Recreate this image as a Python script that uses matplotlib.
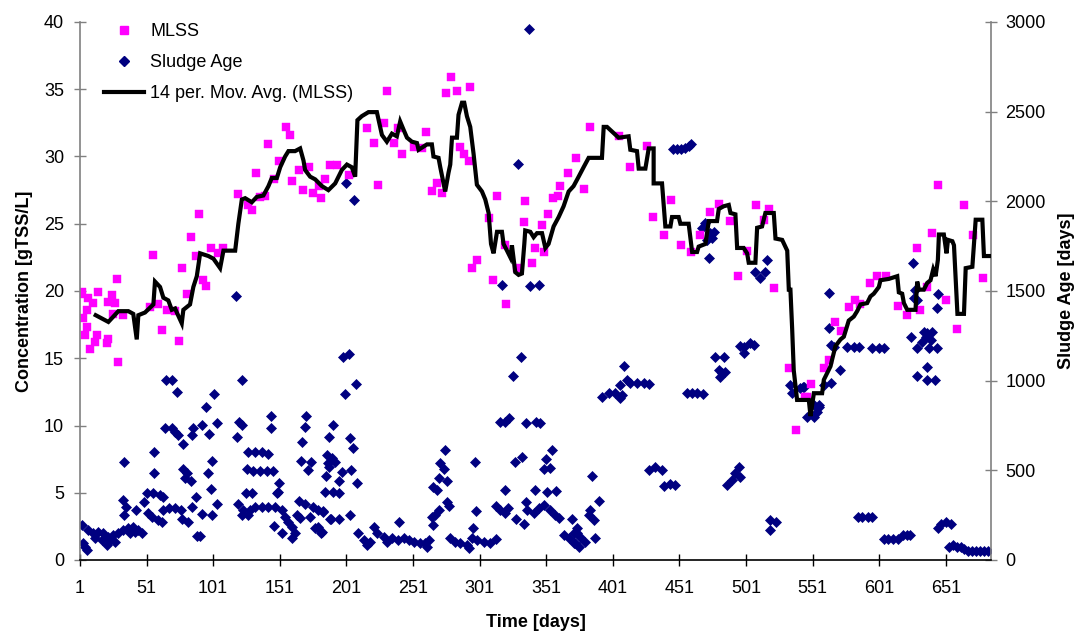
import matplotlib
matplotlib.use("Agg")
import matplotlib.pyplot as plt
from matplotlib.lines import Line2D

plt.rcParams['font.family'] = ['Liberation Sans', 'DejaVu Sans']

# ---------------- data ----------------
mlss_day = [1.0, 2.3, 3.5, 4.8, 6.0, 6.0, 7.2, 8.5, 11.0, 12.3, 13.5, 14.7, 21.1, 22.3, 22.3, 24.8, 26.0, 27.3,
            29.0, 29.8, 33.5, 53.6, 55.6, 59.8, 62.4, 66.1, 72.4, 75.6, 77.4, 81.2, 84.6, 88.2, 90.4, 93.2,
            95.4, 99.6, 104.5, 108.7, 119.5, 127.0, 130.0, 133.2, 136.2, 140.0, 142.5, 147.0, 150.5, 155.5,
            158.8, 160.1, 165.5, 168.3, 173.3, 176.3, 180.8, 182.1, 185.1, 188.8, 193.9, 202.6, 216.8,
            221.4, 224.7, 228.9, 231.4, 236.4, 239.7, 242.7, 251.4, 257.7, 261.0, 265.2, 269.0, 272.8,
            276.0, 279.5, 284.0, 286.5, 289.5, 292.7, 294.0, 295.3, 299.0, 308.3, 310.8, 314.1, 320.3,
            320.8, 329.1, 334.1, 334.8, 340.6, 342.8, 347.9, 349.6, 352.1, 355.8, 359.9, 361.6, 367.4,
            373.7, 379.1, 383.6, 405.4, 413.7, 426.8, 431.0, 439.8, 445.0, 452.3, 459.8, 466.3, 474.3,
            481.1, 489.4, 495.1, 501.9, 508.9, 514.4, 518.1, 522.4, 533.7, 538.9, 545.7, 546.9, 550.2,
            559.4, 563.2, 567.7, 572.5, 578.2, 582.7, 587.0, 594.5, 599.6, 605.8, 615.0, 622.1, 629.1,
            631.6, 636.6, 640.9, 645.1, 650.9, 659.2, 664.6, 671.7, 679.2]
mlss_conc = [19.8, 19.9, 18.0, 16.7, 18.6, 17.3, 19.5, 15.7, 19.1, 16.2, 16.7, 19.9, 16.1, 16.4, 19.2, 19.7, 18.3, 19.1,
             20.9, 14.7, 18.2, 18.8, 22.7, 19.0, 17.1, 18.6, 18.5, 16.3, 21.7, 19.8, 24.0, 22.6, 25.7, 20.8,
             20.4, 23.2, 22.8, 23.2, 27.2, 26.4, 26.0, 28.8, 27.0, 27.1, 30.9, 28.3, 29.7, 32.2,
             31.6, 28.2, 29.0, 27.5, 29.2, 27.3, 27.8, 26.9, 28.3, 29.4, 29.4, 28.6, 32.1,
             31.0, 27.9, 32.5, 34.9, 31.0, 32.1, 30.2, 30.7, 30.6, 31.8, 27.4, 28.0, 27.3,
             34.7, 35.9, 34.9, 30.7, 30.2, 29.7, 35.2, 21.7, 22.3, 25.4, 20.8, 27.1, 23.4,
             19.0, 21.7, 25.1, 26.7, 22.1, 23.2, 24.9, 22.9, 25.7, 26.9, 27.1, 27.8, 28.8,
             29.9, 27.6, 32.2, 31.5, 29.2, 30.8, 25.5, 24.2, 26.8, 23.4, 22.9, 24.2, 25.9,
             26.5, 25.2, 21.1, 23.0, 26.4, 25.3, 26.1, 20.2, 14.3, 9.7, 12.1, 12.1, 13.1,
             14.3, 14.9, 17.7, 17.0, 18.8, 19.3, 19.0, 20.6, 21.1, 21.1, 18.9, 18.2, 23.2,
             18.6, 20.3, 24.3, 27.9, 19.3, 17.2, 26.4, 24.2, 21.0]

age_day = [2.3, 3.5, 4.8, 6.0, 7.2, 11.0, 12.3, 14.7, 17.3, 18.5, 21.1, 22.3, 23.5, 26.0, 27.3, 29.8, 33.5, 33.5,
           34.3, 34.3, 35.3, 37.3, 38.6, 41.0, 42.3, 42.8, 44.8, 47.4, 49.3, 51.1, 52.3, 54.9, 56.1, 56.4,
           56.4, 59.8, 61.1, 62.4, 63.1, 63.6, 64.9, 65.4, 68.1, 69.9, 70.3, 72.4, 72.4, 73.7, 74.9, 76.9,
           77.4, 78.2, 78.2, 79.9, 81.2, 82.4, 84.4, 84.9, 85.4, 86.1, 88.2, 88.7, 91.2, 92.4, 92.4, 95.7,
           96.9, 97.9, 99.2, 100.4, 100.4, 101.7, 103.7, 104.2, 118.0, 118.7, 119.5, 120.7, 122.5, 122.5,
           122.5, 123.7, 125.5, 126.2, 127.4, 127.4, 128.7, 130.0, 131.2, 132.5, 132.5, 136.2, 137.5,
           137.5, 141.3, 142.5, 142.5, 144.3, 144.3, 146.2, 147.0, 147.5, 148.8, 149.5, 150.5, 152.5,
           152.5, 155.0, 157.5, 160.1, 160.1, 162.5, 163.8, 165.8, 166.3, 167.0, 167.6, 170.0, 170.0,
           170.8, 172.5, 173.8, 174.6, 176.3, 177.6, 180.0, 180.0, 182.1, 183.8, 185.1, 185.6, 187.5,
           189.6, 190.9, 190.9,
           182.6, 183.8, 186.4, 188.3, 188.3, 188.8, 190.1, 192.6, 195.1, 195.1, 195.1, 197.6, 198.8,
           200.1, 200.9, 202.6, 203.9, 203.9, 204.6, 205.6, 206.9, 208.1, 209.3, 210.1, 213.9, 216.4,
           218.9, 221.4, 223.9, 228.9, 231.4, 235.2, 240.1, 240.7, 243.9, 247.7, 251.4, 256.4, 260.2,
           261.5, 262.7, 265.2, 266.4, 266.4, 267.7, 269.0, 270.2, 270.2, 271.5, 274.0, 275.2, 276.5,
           276.5, 277.7, 279.0, 282.8, 286.5, 291.5, 292.7, 295.3, 296.0, 297.8, 298.5, 299.0, 304.0,
           309.0, 313.6, 313.6, 316.0, 316.6, 317.8, 320.3, 320.3, 320.3, 322.1, 322.8, 326.1, 327.8,
           328.6, 329.9, 332.1, 332.8, 334.1, 335.9, 336.1, 336.6, 337.8, 338.6, 341.6, 342.8, 343.6,
           345.3, 345.9, 346.6, 349.1, 349.6, 351.1, 351.6, 354.1, 354.1, 355.4, 357.9, 358.6, 360.4,
           364.1, 367.9, 370.4, 371.6, 371.6, 372.9, 374.2, 374.2, 375.4, 376.7, 380.4, 382.9, 384.2,
           385.4, 386.7, 387.9, 390.4,
           393.0, 397.9, 403.0, 406.7, 406.7, 408.0, 409.7, 411.7, 414.2, 419.2, 424.2, 428.0, 428.0,
           433.0, 438.1, 439.3, 444.3, 446.0, 448.1, 449.0, 452.0, 455.0, 456.8, 458.0, 460.0, 460.6,
           464.3, 468.1, 468.8, 470.6, 471.8, 473.0, 474.3, 475.6, 476.8, 478.1, 480.6, 481.8, 483.1,
           484.4, 485.6, 486.9, 490.6, 493.1, 495.6, 496.9, 496.9, 499.3, 499.3, 504.4, 506.9, 508.1,
           511.8, 515.6, 516.9, 518.9, 519.4, 523.2, 534.4, 535.7, 541.9, 543.9, 544.4, 546.9, 551.9,
           552.0, 554.4, 555.7, 555.7, 559.5, 563.2, 563.2, 564.5, 564.5, 567.0, 572.0, 577.0, 582.0,
           584.8, 585.8, 588.5, 592.3, 595.3, 595.8, 600.8, 604.5, 604.5, 607.5, 611.2, 615.0, 618.8,
           621.8, 624.1, 625.3, 626.3, 627.1, 628.3, 629.6, 629.6, 629.6, 633.4, 634.6, 635.9, 637.1,
           637.1, 637.1, 638.3, 639.6, 640.9, 642.9, 644.1, 644.7, 644.9, 644.9, 647.1, 650.9, 653.1,
           654.6, 656.1, 659.1, 662.1, 665.1, 668.1, 671.1, 674.1, 677.1, 680.1, 683.1]
age_val = [195, 93, 74, 56, 167, 149, 121, 158, 112, 149, 84, 130, 112, 139, 102, 149, 167, 335,
           548, 251, 297, 177, 149, 186, 158, 279, 167, 149, 325, 372, 260, 241, 372, 604,
           487, 223, 362, 214, 279, 353, 734, 1004, 288, 734, 1004, 715, 288, 939, 697, 279,
           227, 645, 506, 456, 487, 214, 442, 697, 297, 734, 350, 134, 134, 753, 256, 855,
           487, 701, 394, 554, 251, 924, 762, 312, 1474, 684, 312, 771, 1004, 753,
           251, 279, 372, 506, 604, 251, 279, 372, 498, 604, 297, 498, 604,
           297, 498, 591, 297, 805, 738, 498, 190, 297, 372, 381, 428, 279,
           149, 241, 214, 186, 121, 149, 251, 331, 233, 554, 656, 743, 312,
           805, 502, 238, 545, 297, 177, 279, 186, 149, 269, 377, 470, 543,
           229, 753, 381,
           158, 275, 586, 684, 517, 227, 567, 548, 442, 375, 227, 492, 1130,
           924, 2100, 1149, 679, 251, 502, 623, 2006, 981, 428, 149, 112, 84,
           102, 186, 149, 130, 102, 121, 112, 210, 121, 112, 102, 93, 93,
           74, 112, 238, 409, 195, 251, 390, 456, 279, 543, 506, 613, 441,
           325, 301, 121, 102, 93, 84, 65, 121, 177, 548, 273, 112, 102,
           93, 115, 301, 771, 279, 1533, 771, 390, 260, 288, 790, 1026, 548,
           227, 2206, 1130, 573, 201, 325, 762, 279, 2961, 1528, 260, 390, 771,
           288, 1533, 762, 307, 506, 562, 381, 511, 279, 613, 251, 385, 233,
           139, 121, 227, 93, 149, 93, 149, 177, 74, 130, 102, 251, 279,
           468, 223, 121, 331,
           911, 930, 930, 902, 976, 920, 1082, 1004, 985, 985, 985, 981, 502,
           517, 502, 413, 424, 2290, 418, 2290, 2290, 2296, 930, 2310, 2320, 930,
           930, 1850, 926, 1877, 1784, 1682, 1822, 1794, 1831, 1134, 1059, 1022, 1041,
           1134, 1050, 418, 446, 483, 517, 464, 1193, 1189, 1153, 1208, 1199, 1608,
           1571, 1608, 1673, 167, 223, 214, 976, 930, 957, 966, 966, 799, 799,
           864, 827, 864, 855, 976, 1487, 1292, 1199, 985, 1189, 1059, 1189, 1189,
           240, 1189, 240, 240, 240, 1180, 1180, 1180, 117, 117, 117, 117, 139,
           139, 139, 1242, 1654, 1459, 1506, 1450, 1180, 1026, 1217, 1273, 1245, 1264,
           1078, 1004, 1180, 1227, 1273, 1004, 1180, 1407, 1483, 178, 201, 212, 72,
           201, 84, 72, 72, 61, 50, 50, 50, 50, 50, 50]

mavg_day = [12.8, 22.3, 29.8, 37.3, 41.0, 43.6, 44.8, 49.8, 56.1, 57.3, 61.1, 63.6, 67.3, 69.9, 72.4, 73.7,
            77.4, 78.6, 83.6, 86.1, 88.7, 91.2, 97.4, 101.2, 106.2, 108.7, 117.5, 119.9, 122.5, 125.0,
            130.0, 133.8, 138.7, 142.5, 145.0, 148.8, 151.3, 155.0, 157.5, 162.5, 166.3, 168.8, 170.0,
            173.8, 177.6, 182.6, 187.5, 192.6, 197.6, 201.4, 205.1, 207.6, 209.3, 212.6, 217.6, 223.9,
            226.4, 227.7, 231.4, 235.2, 238.9, 241.4, 243.9, 246.5, 250.2, 254.0, 255.2, 261.5, 265.2,
            266.4, 270.2, 271.5, 275.2, 277.7, 279.0, 280.3, 284.0, 285.2, 287.8, 289.5, 291.5, 294.0,
            296.5, 299.0, 302.8, 305.3, 307.8, 309.6, 311.5, 314.1, 317.8, 319.0, 321.6, 324.1, 325.3,
            327.8, 330.3, 332.8, 334.6, 335.3, 339.1, 341.6, 344.1, 347.9, 350.4, 352.8, 356.6, 360.4,
            364.1, 367.9, 371.6, 375.4, 379.1, 382.9, 392.9, 394.2, 396.7, 405.4, 412.9, 414.2, 419.2,
            420.5, 425.5, 428.0, 431.7, 431.7, 438.0, 440.5, 444.3, 445.5, 450.5, 451.8, 458.0, 460.6,
            464.3, 465.5, 470.6, 473.1, 479.3, 480.6, 484.3, 488.1, 489.4, 493.1, 494.4, 499.3, 501.9,
            503.1, 508.1, 509.4, 513.1, 515.6, 521.9, 523.2, 528.2, 532.0, 533.2, 534.4, 535.7, 536.9,
            539.4, 548.2, 549.5, 552.0, 558.2, 559.5, 564.5, 565.7, 568.2, 572.0, 574.5, 578.2, 582.0,
            584.5, 587.0, 592.0, 594.5, 597.0, 600.8, 602.0, 608.3, 614.6, 615.8, 618.3, 619.6, 622.1,
            628.3, 629.6, 630.8, 634.6, 637.1, 639.6, 641.6, 643.4, 645.1, 645.9, 649.6, 651.6, 652.7,
            656.0, 657.2, 659.8, 664.7, 666.0, 671.0, 673.5, 678.5, 679.7, 685.0]
mavg_conc = [18.2, 17.7, 18.5, 18.5, 18.3, 16.4, 18.2, 18.4, 19.0, 20.7, 20.3, 19.5, 19.3, 18.6, 18.7, 18.4,
             17.6, 18.6, 19.0, 20.3, 21.1, 22.8, 22.6, 22.4, 21.7, 23.0, 23.0, 25.0, 26.8, 26.9,
             26.6, 27.0, 27.1, 27.8, 28.4, 28.4, 29.2, 30.0, 30.4, 30.4, 30.6, 29.7, 29.0,
             28.5, 28.3, 27.8, 27.5, 28.0, 29.0, 29.4, 29.2, 28.5, 32.7, 33.0, 33.3, 33.3,
             32.2, 31.6, 31.1, 31.7, 31.5, 32.6, 32.0, 31.4, 31.1, 31.0, 30.5, 30.9, 30.9,
             30.0, 29.9, 29.2, 27.4, 28.8, 29.4, 31.4, 31.4, 33.1, 34.0, 34.0, 33.0, 32.2,
             30.2, 27.9, 27.4, 26.8, 25.8, 23.5, 22.8, 24.4, 24.4, 23.5, 23.0, 22.5, 23.4,
             21.4, 21.2, 21.3, 23.5, 24.5, 24.4, 24.0, 24.3, 24.3, 23.2, 23.5, 24.8, 25.5,
             26.3, 27.4, 27.8, 28.5, 29.2, 29.9, 29.9, 32.2, 32.2, 31.4, 31.5, 30.5, 30.4,
             29.1, 29.1, 30.6, 30.6, 28.0, 28.0, 24.8, 24.8, 25.5, 25.5, 25.0, 25.0, 22.9,
             22.9, 23.3, 23.5, 25.2, 25.2, 26.1, 26.3, 26.4, 25.8, 25.7, 23.2, 23.2, 22.8,
             22.1, 22.1, 24.7, 24.8, 25.8, 25.8, 23.9, 23.8, 23.0, 20.1, 20.1, 17.2, 14.1,
             11.9, 11.9, 10.7, 12.4, 12.4, 13.4, 14.4, 14.9, 15.9, 16.4, 16.6, 17.8, 18.1,
             18.5, 19.0, 19.1, 19.6, 19.8, 20.3, 20.8, 20.9, 21.1, 19.9, 19.8, 19.1, 18.6,
             18.6, 20.7, 20.1, 20.1, 20.6, 20.8, 21.6, 21.1, 22.3, 24.2, 24.2, 22.8, 23.8,
             23.7, 23.4, 18.3, 18.3, 21.7, 21.8, 25.3, 25.3, 22.6, 22.6]

x_ticks = [1, 51, 101, 151, 201, 251, 301, 351, 401, 451, 501, 551, 601, 651]
y_ticks = [0, 5, 10, 15, 20, 25, 30, 35, 40]
y2_ticks = [0, 500, 1000, 1500, 2000, 2500, 3000]

# ---------------- figure ----------------
W, H = 1079, 634
fig = plt.figure(figsize=(W / 100, H / 100), dpi=100)
ax = fig.add_axes([80 / W, 1 - 560 / H, (991 - 80) / W, (560 - 22) / H])
ax2 = ax.twinx()

FS = 13
MAG = '#FF00FF'
NAVY = '#000080'

ax2.plot(age_day, age_val, linestyle='none', marker='D', markersize=5.2,
         markerfacecolor=NAVY, markeredgecolor=NAVY, markeredgewidth=0.5)
ax.plot(mlss_day, mlss_conc, linestyle='none', marker='s', markersize=6.4,
        markerfacecolor=MAG, markeredgecolor=MAG, markeredgewidth=0.3)
ax.plot(mavg_day, mavg_conc, color='black', linewidth=3.0, solid_joinstyle='miter')

ax.set_zorder(ax2.get_zorder() + 1)
ax.patch.set_visible(False)

ax.set_xlim(1, 685)
ax.set_ylim(0, 40)
ax2.set_ylim(0, 3000)
ax.set_xticks(x_ticks)
ax.set_yticks(y_ticks)
ax2.set_yticks(y2_ticks)

for a in (ax, ax2):
    a.spines['top'].set_visible(False)
ax.spines['right'].set_visible(False)
ax2.spines['left'].set_visible(False)
ax2.spines['bottom'].set_visible(False)
ax.spines['left'].set_color('#808080')
ax2.spines['right'].set_color('#808080')
ax.spines['bottom'].set_color('black')
for s in (ax.spines['left'], ax2.spines['right'], ax.spines['bottom']):
    s.set_linewidth(1.2)

ax.tick_params(axis='x', direction='inout', length=9, width=1, colors='black', labelsize=FS, pad=10)
ax.tick_params(axis='y', direction='inout', length=9, width=1, color='#808080', labelcolor='black', labelsize=FS, pad=7)
ax2.tick_params(axis='y', direction='inout', length=9, width=1, color='#808080', labelcolor='black', labelsize=FS, pad=6)

ax.set_xlabel('Time [days]', fontsize=FS, fontweight='bold', labelpad=12)
ax.set_ylabel('Concentration [gTSS/L]', fontsize=FS, fontweight='bold', labelpad=8)
ax2.set_ylabel('Sludge Age [days]', fontsize=FS, fontweight='bold', labelpad=9)

handles = [Line2D([], [], linestyle='none', marker='s', markersize=6.4, color=MAG),
           Line2D([], [], linestyle='none', marker='D', markersize=5.2, color=NAVY),
           Line2D([], [], color='black', linewidth=3.0)]
labels = ['MLSS', 'Sludge Age', '14 per. Mov. Avg. (MLSS)']
leg = ax.legend(handles, labels, loc='upper left', bbox_to_anchor=(104 / W, 1 - 23 / H),
                bbox_transform=fig.transFigure, frameon=False, fontsize=FS,
                borderpad=0, borderaxespad=0, handlelength=2.2, handletextpad=0.35,
                labelspacing=0.78)

fig.savefig('out.png', dpi=100)
